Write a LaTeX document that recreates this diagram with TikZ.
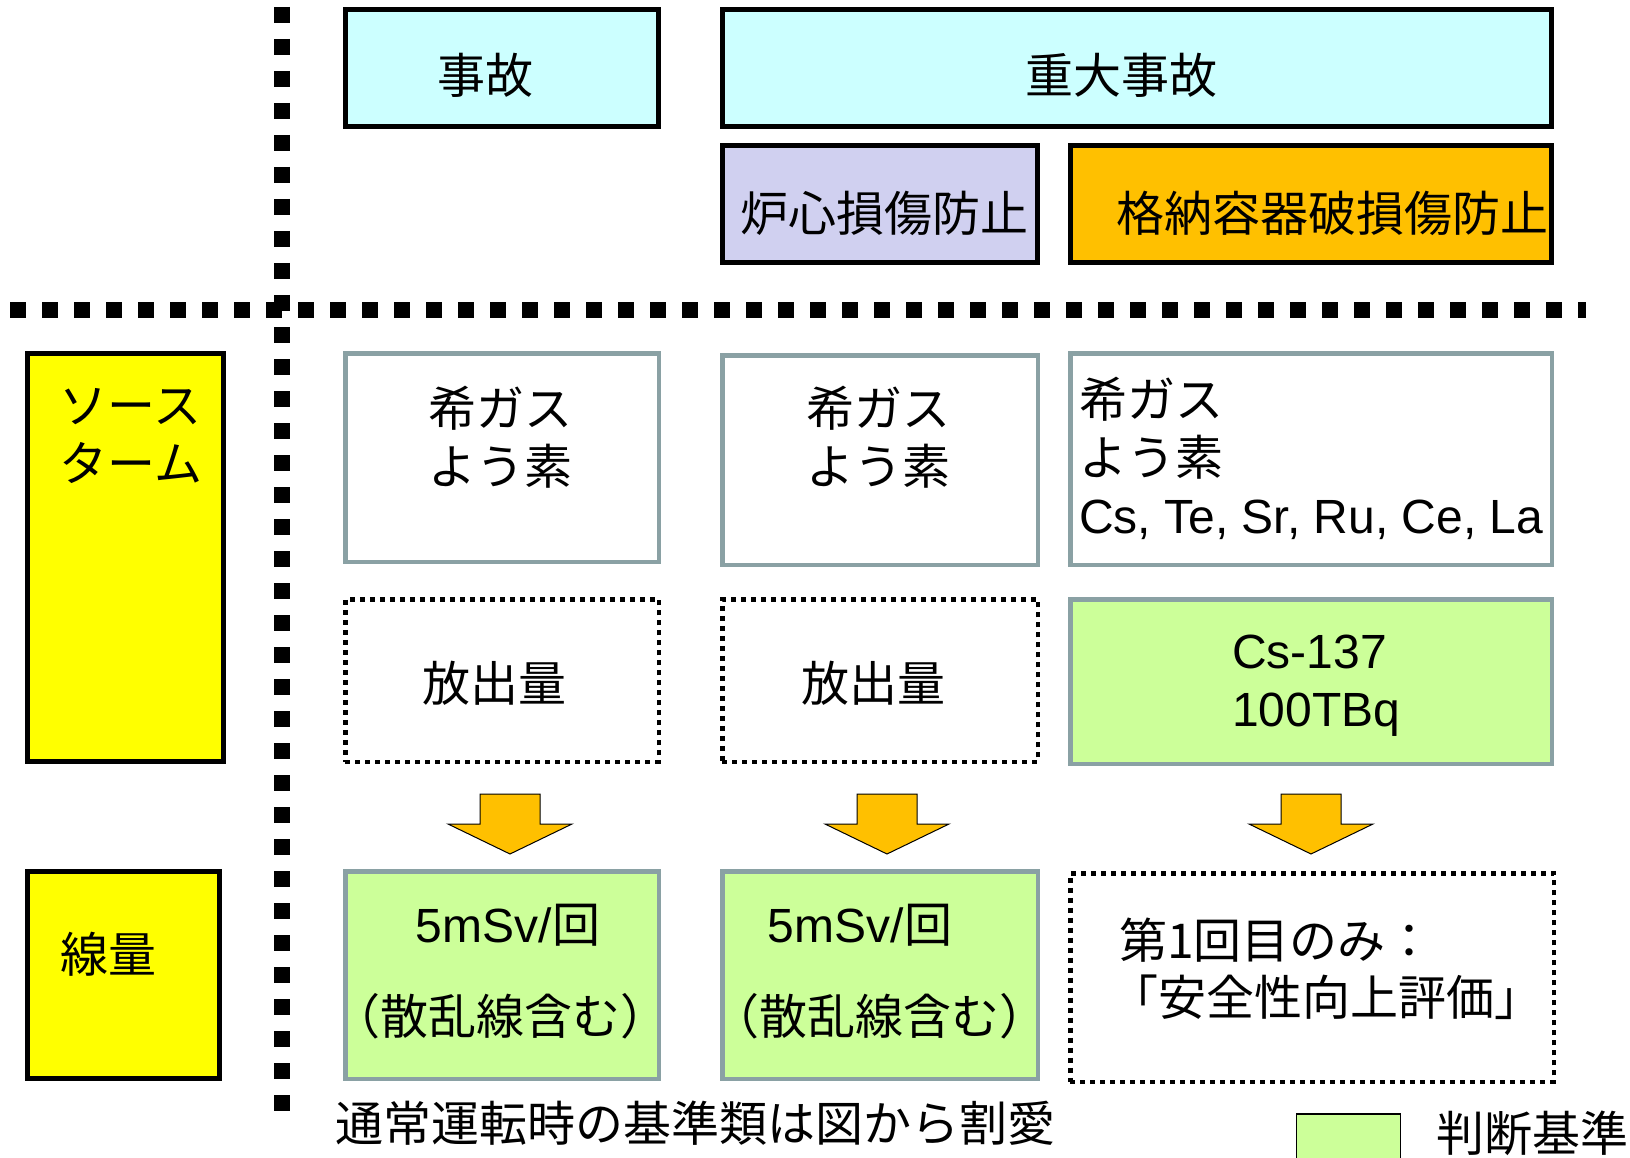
\documentclass[tikz,border=0pt]{standalone}
\usepackage{fontspec}
\setmainfont{Noto Sans CJK JP}
\newfontfamily\arial{Liberation Sans}
\usepackage{xcolor}
\definecolor{jikocyan}{HTML}{CCFFFF}
\definecolor{roshinlav}{HTML}{D0D0F0}
\definecolor{kakunoorange}{HTML}{FFC000}
\definecolor{termyellow}{HTML}{FFFF00}
\definecolor{kijungreen}{HTML}{CCFF99}
\definecolor{edgegray}{HTML}{8AA1A4}
\usepackage{tikz}

\begin{document}
\begin{tikzpicture}[x=1pt,y=-1pt]
  \tikzstyle{box}=[draw=black,rectangle,inner sep=0pt,line width=5pt]
  \tikzstyle{cb}=[box,fill=jikocyan]
  \tikzstyle{lb}=[box,fill=roshinlav]
  \tikzstyle{ob}=[box,fill=kakunoorange]
  \tikzstyle{yb}=[box,fill=termyellow]
  \tikzstyle{wb}=[box,draw=edgegray,line width=4.5pt,fill=white]
  \tikzstyle{gb}=[wb,fill=kijungreen]
  \tikzstyle{db}=[box,line width=4.5pt,dash pattern=on 5pt off 5pt]
  \tikzstyle{sep}=[line width=16pt,dash pattern=on 16pt off 16pt]
  \tikzstyle{blockarrow}=[draw=black,line width=1pt,fill=kakunoorange]
  \tikzstyle{txt}=[inner sep=0pt,font=\fontsize{48}{58}\selectfont]

  \useasboundingbox (0,0) rectangle (1630,1158);

  % separators
  \draw[sep] (282,7) -- (282,1111);
  \draw[sep] (10,310) -- (1586,310);

  % header
  \node[cb,minimum width=313pt,minimum height=117pt] (jiko)   at (502,68)  {};
  \node[cb,minimum width=829pt,minimum height=117pt] (juudai) at (1137,68) {};
  \node[lb,minimum width=315pt,minimum height=117pt] (roshin) at (880,204) {};
  \node[ob,minimum width=481pt,minimum height=117pt] (kakuno) at (1311,204) {};

  % left labels
  \node[yb,minimum width=196pt,minimum height=408pt] (source) at (125.5,557.5) {};
  \node[yb,minimum width=192pt,minimum height=207pt] (senryo) at (123.5,975)   {};

  % source terms
  \node[wb,minimum width=313.5pt,minimum height=208.5pt] (gas1) at (502,457.5) {};
  \node[wb,minimum width=315.5pt,minimum height=209.5pt] (gas2) at (880,460)   {};
  \node[wb,minimum width=481.5pt,minimum height=211.5pt] (gas3) at (1311,459)  {};

  \node[db,minimum width=313.5pt,minimum height=162.5pt] (rel1) at (502,680.5)  {};
  \node[db,minimum width=315.5pt,minimum height=162.5pt] (rel2) at (880,680.5)  {};
  \node[gb,minimum width=481.5pt,minimum height=164.5pt] (rel3) at (1311,681.5) {};

  % doses
  \node[gb,minimum width=313.5pt,minimum height=207.5pt] (dose1) at (502,975)    {};
  \node[gb,minimum width=315.5pt,minimum height=207.5pt] (dose2) at (880,975)    {};
  \node[db,minimum width=483.5pt,minimum height=208.5pt] (dose3) at (1312,977.5) {};

  % legend
  \node[box,line width=1.5pt,fill=kijungreen,minimum width=104pt,minimum height=56pt] (legend) at (1348.5,1142) {};

  \foreach \cx in {510,887,1311}
    \draw[blockarrow] (\cx-30,794) -- (\cx+30,794) -- (\cx+30,824) -- (\cx+62,824)
                      -- (\cx,854) -- (\cx-62,824) -- (\cx-30,824) -- cycle;

  % texts
  \node[txt] (jiko-t)   at (485,75)   {事故};
  \node[txt] (juudai-t) at (1121,75)  {重大事故};
  \node[txt] (roshin-t) at (884,213)  {炉心損傷防止};
  \node[txt] (kakuno-t) at (1332,213) {格納容器破損傷防止};
  \node[txt,align=left] (source-t) at (131,436) {ソース\\ターム};
  \node[txt] (senryo-t) at (108,954)  {線量};
  \node[txt,align=center] (gas1-t) at (500,437) {希ガス\\よう素};
  \node[txt,align=center] (gas2-t) at (878,437) {希ガス\\よう素};
  \node[txt,align=left,anchor=west] (gas3-t) at (1079,458) {希ガス\\よう素\\{\arial Cs, Te, Sr, Ru, Ce, La}};
  \node[txt] (rel1-t) at (494,683) {放出量};
  \node[txt] (rel2-t) at (873,683) {放出量};
  \node[txt,align=left,anchor=west,font=\fontsize{48}{58}\arial] (rel3-t) at (1232,686) {Cs-137\\100TBq};
  \node[txt] (dose1-a) at (508,925)  {{\arial 5mSv/}回};
  \node[txt] (dose1-b) at (500,1016) {（散乱線含む）};
  \node[txt] (dose2-a) at (860,925)  {{\arial 5mSv/}回};
  \node[txt] (dose2-b) at (879,1016) {（散乱線含む）};
  \node[txt,anchor=west] (dose3-a) at (1119,940) {第1回目のみ：};
  \node[txt,anchor=west] (dose3-b) at (1110,997) {「安全性向上評価」};
  \node[txt,anchor=west] (note)    at (335,1123) {通常運転時の基準類は図から割愛};
  \node[txt,anchor=west] (legend-t) at (1436,1133) {判断基準};
\end{tikzpicture}
\end{document}
